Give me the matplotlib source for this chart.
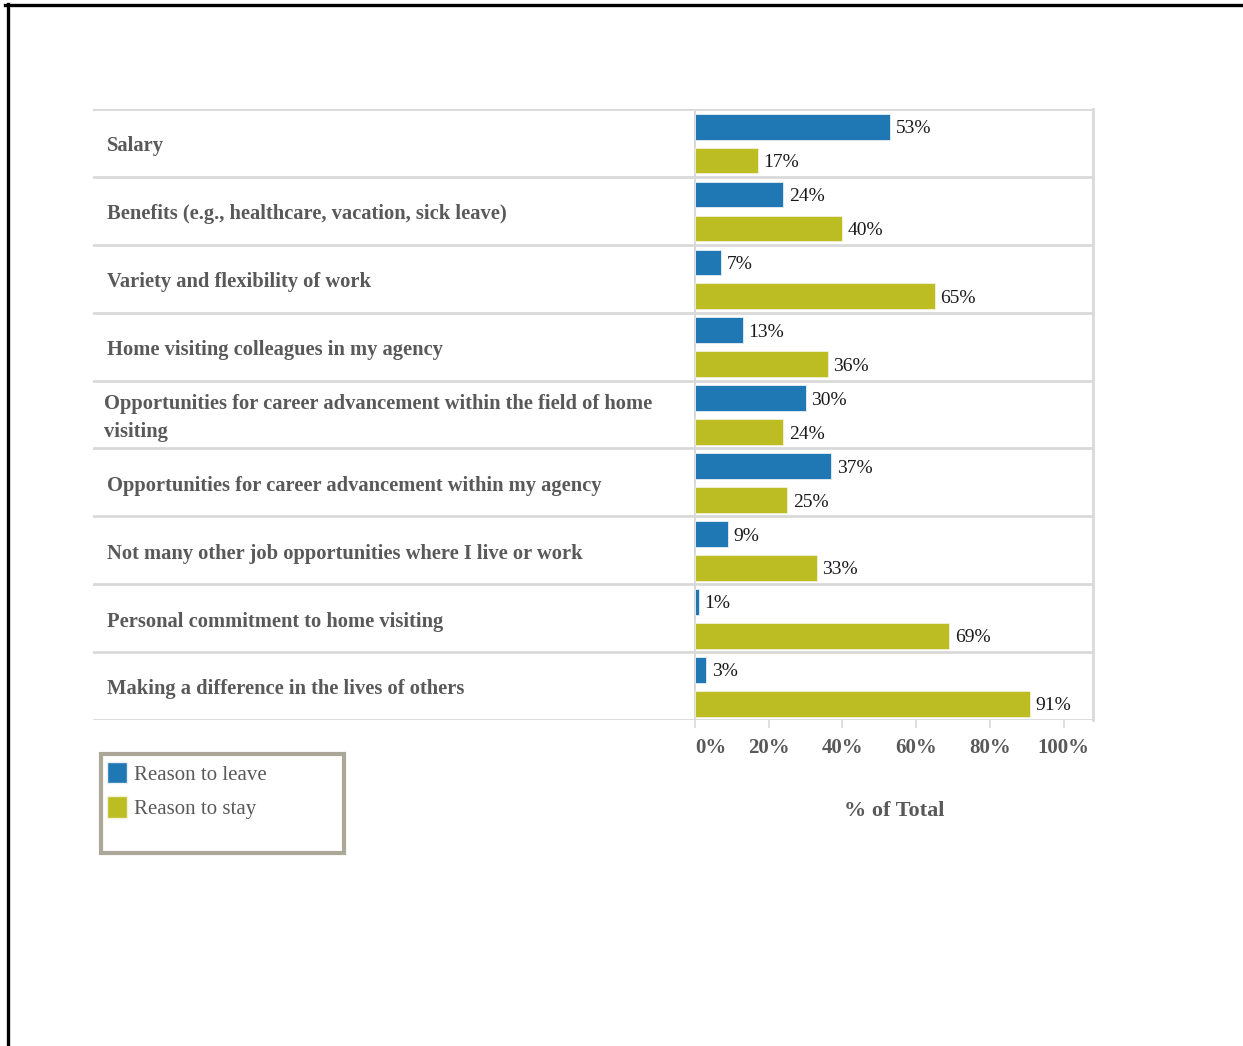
import matplotlib
matplotlib.use("Agg")
import matplotlib.pyplot as plt
from matplotlib.lines import Line2D
from matplotlib.patches import Rectangle, Patch
import numpy as np

categories = [
    "Salary",
    "Benefits (e.g., healthcare, vacation, sick leave)",
    "Variety and flexibility of work",
    "Home visiting colleagues in my agency",
    "Opportunities for career advancement within the field of home\nvisiting",
    "Opportunities for career advancement within my agency",
    "Not many other job opportunities where I live or work",
    "Personal commitment to home visiting",
    "Making a difference in the lives of others",
]
reason_to_leave = [53, 24, 7, 13, 30, 37, 9, 1, 3]
reason_to_stay = [17, 40, 65, 36, 24, 25, 33, 69, 91]
series_names = ["Reason to leave", "Reason to stay"]
tick_values = [0, 20, 40, 60, 80, 100]
tick_labels = ["0%", "20%", "40%", "60%", "80%", "100%"]

W, H = 1243, 1046
BLUE = "#1f77b4"
OLIVE = "#bcbd22"
GRID = "#d9d9d9"
GREY_TXT = "#595959"
SERIF = ["Liberation Serif", "DejaVu Serif"]

fig = plt.figure(figsize=(W / 100, H / 100), dpi=100)
fig.patch.set_facecolor("white")

def fx(px):
    return px / W

def fy(py):
    return 1 - py / H

# Axes spans the label column and the bar column; 0% sits at x=695px
ax_left, ax_right, ax_top, ax_bot = 93, 1093, 109, 720
ax = fig.add_axes([fx(ax_left), fy(ax_bot), fx(ax_right - ax_left), fy(ax_top) - fy(ax_bot)])
px_per_pct = (1063.5 - 695) / 100.0
xmin = -(695 - ax_left) / px_per_pct
xmax = (ax_right - 695) / px_per_pct
ax.set_xlim(xmin, xmax)
n = len(categories)
ax.set_ylim(n - 0.5, -0.5)

y = np.arange(n)
bar_h = 0.38
ax.barh(y - 0.24, reason_to_leave, height=bar_h, color=BLUE, edgecolor="#e8eef4",
        linewidth=0.6, zorder=3, label=series_names[0])
ax.barh(y + 0.26, reason_to_stay, height=bar_h, color=OLIVE, edgecolor="#f2f2d8",
        linewidth=0.6, zorder=3, label=series_names[1])

val_font = dict(family=SERIF, fontsize=14, color="#1a1a1a")
for i in range(n):
    ax.text(reason_to_leave[i] + 1.5, y[i] - 0.21, f"{reason_to_leave[i]}%", va="center",
            ha="left", **val_font)
    ax.text(reason_to_stay[i] + 1.5, y[i] + 0.29, f"{reason_to_stay[i]}%", va="center",
            ha="left", **val_font)

# Row separators and column rules
for b in np.arange(-0.5, n + 0.5, 1.0):
    ax.axhline(b, color=GRID, lw=2, zorder=1)
ax.axvline(0, color=GRID, lw=1.5, zorder=2)
for s in ["top", "bottom", "left"]:
    ax.spines[s].set_visible(False)
ax.spines["right"].set_color(GRID)
ax.spines["right"].set_linewidth(2)

# Category labels in the left column
for i, c in enumerate(categories):
    xa = 0.011 if "\n" in c else 0.014
    ax.text(xa, y[i] + 0.05, c, transform=ax.get_yaxis_transform(), ha="left", va="center",
            family=SERIF, fontsize=14.8, fontweight="bold", color=GREY_TXT,
            linespacing=1.55)

ax.set_yticks([])
ax.set_xticks(tick_values)
ax.set_xticklabels(tick_labels, family=SERIF, fontsize=15, fontweight="bold", color=GREY_TXT)
ax.tick_params(axis="x", length=6, width=1.2, color=GRID, pad=7)
lbls = ax.get_xticklabels()
lbls[0].set_ha("left")

fig.text(fx(894), fy(811), "% of Total", ha="center", va="center", family=SERIF,
         fontsize=16, fontweight="bold", color=GREY_TXT)

# Legend box
fig.add_artist(Rectangle((fx(101), fy(853)), fx(243), fy(754) - fy(853),
                         transform=fig.transFigure, facecolor="white",
                         edgecolor="#aca899", lw=3))
handles = [Patch(facecolor=BLUE, edgecolor="#e8eef4"), Patch(facecolor=OLIVE, edgecolor="#f2f2d8")]
fig.legend(handles, series_names, loc="upper left", bbox_to_anchor=(fx(104), fy(759)),
           frameon=False, prop=dict(family=SERIF, size=15), labelcolor=GREY_TXT,
           handlelength=0.97, handleheight=1.2, handletextpad=0.3, labelspacing=0.55,
           borderpad=0.15, borderaxespad=0)

# Outer border lines
fig.add_artist(Line2D([fx(5), fx(1243)], [fy(5), fy(5)], color="black", lw=2.4,
                      transform=fig.transFigure))
fig.add_artist(Line2D([fx(8), fx(8)], [fy(4), fy(1046)], color="black", lw=2.4,
                      transform=fig.transFigure))

fig.savefig("out.png", dpi=100, facecolor="white")
